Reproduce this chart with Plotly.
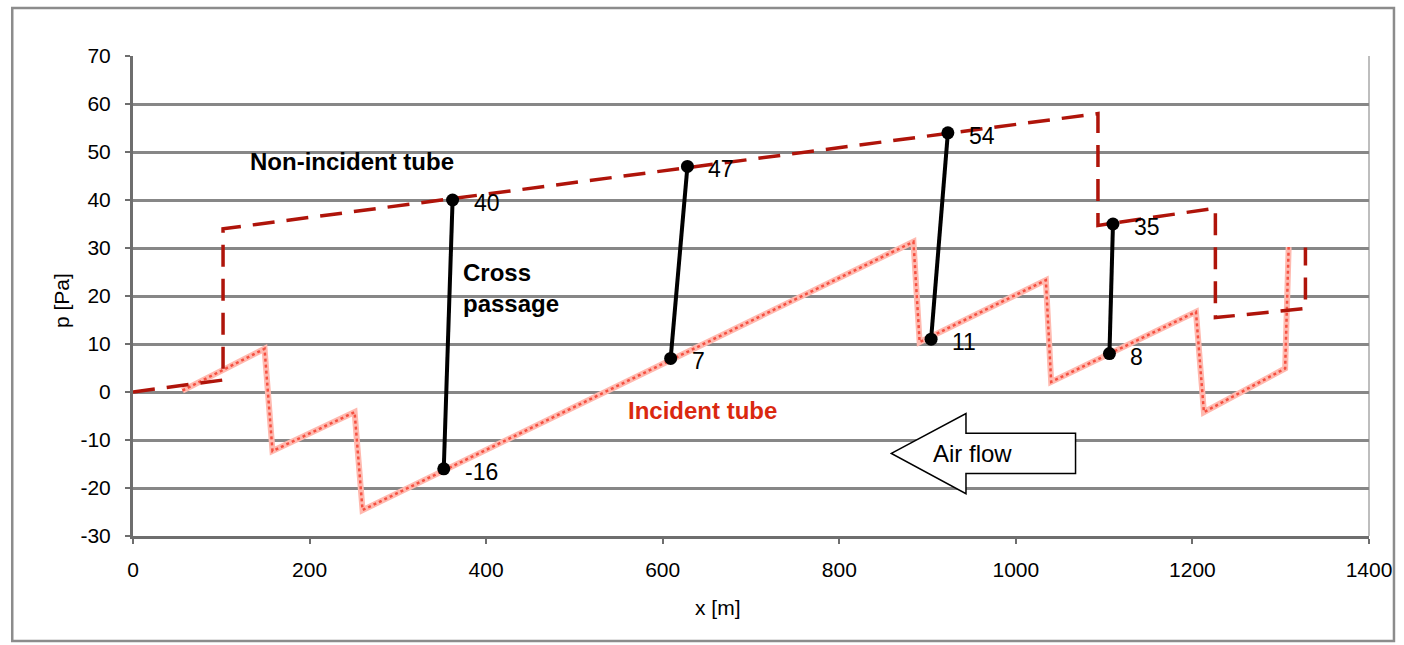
import plotly.graph_objects as go

# ---- data ----
noninc_x = [0, 102, 102, 1093, 1093, 1226, 1226, 1328, 1328]
noninc_y = [0, 2.5, 34, 58, 34.7, 38.3, 15.5, 17.4, 30.1]

inc_x = [56, 149, 158, 251, 260, 884, 891, 1034, 1040, 1204, 1213, 1305, 1309]
inc_y = [0.3, 9.0, -12.3, -4.2, -24.6, 31.3, 10.4, 23.3, 2.1, 16.7, -4.2, 4.9, 30.2]

cp_x_bottom = [352, 609, 904, 1106]
cp_y_bottom = [-16, 7, 11, 8]
cp_x_top = [362, 628, 923, 1110]
cp_y_top = [40, 47, 54, 35]

x_ticks = [0, 200, 400, 600, 800, 1000, 1200, 1400]
y_ticks = [-30, -20, -10, 0, 10, 20, 30, 40, 50, 60, 70]
y_tick_labels = [str(v) for v in y_ticks]

FONT = "Liberation Sans, Arial, sans-serif"

fig = go.Figure()

# Incident tube (textured light red)
fig.add_trace(go.Scatter(x=inc_x, y=inc_y, mode="lines",
                         line=dict(color="rgb(255,185,175)", width=6), hoverinfo="skip"))
fig.add_trace(go.Scatter(x=inc_x, y=inc_y, mode="lines",
                         line=dict(color="rgb(245,80,65)", width=2.5, dash="dot"), hoverinfo="skip"))

# Non-incident tube (dashed dark red)
fig.add_trace(go.Scatter(x=noninc_x, y=noninc_y, mode="lines",
                         line=dict(color="rgb(175,20,10)", width=3.5, dash="22px,12px")))

# Cross passages
for xb, yb, xt, yt in zip(cp_x_bottom, cp_y_bottom, cp_x_top, cp_y_top):
    fig.add_trace(go.Scatter(x=[xb, xt], y=[yb, yt], mode="lines+markers",
                             line=dict(color="black", width=4),
                             marker=dict(color="black", size=13)))

annotations = []
for xs, ys in ((cp_x_bottom, cp_y_bottom), (cp_x_top, cp_y_top)):
    for x, y in zip(xs, ys):
        annotations.append(dict(x=x, y=y, text=str(y), showarrow=False,
                                xanchor="left", yanchor="middle", xshift=19, yshift=-3,
                                font=dict(family=FONT, size=23, color="black")))

annotations += [
    dict(x=130, y=48.1, text="<b>Non-incident tube</b>", showarrow=False, xanchor="left",
         yanchor="middle", font=dict(family=FONT, size=24, color="black")),
    dict(x=371, y=21.7, text="<b>Cross<br>passage</b>", showarrow=False, xanchor="left",
         yanchor="middle", align="left", font=dict(family=FONT, size=24, color="black")),
    dict(x=558, y=-3.8, text="<b>Incident tube</b>", showarrow=False, xanchor="left",
         yanchor="middle", font=dict(family=FONT, size=24, color="rgb(218,40,15)")),
    dict(x=951, y=-12.8, text="Air flow", showarrow=False, xanchor="center",
         yanchor="middle", font=dict(family=FONT, size=24, color="black")),
    dict(x=-0.058, y=0.49, xref="paper", yref="paper", text="p [Pa]", textangle=-90,
         showarrow=False, xanchor="center", yanchor="middle",
         font=dict(family=FONT, size=21, color="black")),
    dict(x=0.473, y=-0.148, xref="paper", yref="paper", text="x [m]",
         showarrow=False, xanchor="center", yanchor="middle",
         font=dict(family=FONT, size=21, color="black")),
]

shapes = [
    # Air flow block arrow
    dict(type="path", xref="x", yref="y", layer="above",
         path="M 859,-12.8 L 943.5,-4.5 L 943.5,-8.6 L 1067.6,-8.6 L 1067.6,-17.0 "
              "L 943.5,-17.0 L 943.5,-21.2 Z",
         fillcolor="white", line=dict(color="black", width=1.5)),
    # right border of plot area
    dict(type="line", xref="paper", yref="paper", x0=1, x1=1, y0=0, y1=1,
         line=dict(color="rgb(190,190,190)", width=2), layer="below"),
    # outer frame
    dict(type="rect", xref="paper", yref="paper", x0=-0.0977, x1=1.0202, y0=-0.2187, y1=1.1,
         line=dict(color="rgb(140,140,140)", width=2.5), layer="below"),
]

fig.update_layout(
    width=1404, height=645,
    margin=dict(l=133, r=32, t=56, b=109),
    paper_bgcolor="white", plot_bgcolor="white",
    showlegend=False,
    annotations=annotations, shapes=shapes,
    font=dict(family=FONT, size=21, color="black"),
)
fig.update_xaxes(range=[0, 1400], tickvals=x_ticks, showgrid=False, zeroline=False,
                 showline=True, linecolor="rgb(110,110,110)", linewidth=3,
                 ticks="outside", ticklen=5, tickwidth=2, tickcolor="rgb(110,110,110)",
                 ticklabelstandoff=8,
                 tickfont=dict(family=FONT, size=21, color="black"))
fig.update_yaxes(range=[-30, 70], tickvals=y_ticks, ticktext=y_tick_labels, showgrid=True,
                 gridcolor="rgb(135,135,135)", gridwidth=3, zeroline=False,
                 showline=True, linecolor="rgb(110,110,110)", linewidth=3,
                 ticks="outside", ticklen=5, tickwidth=2, tickcolor="rgb(110,110,110)",
                 ticklabelstandoff=10,
                 tickfont=dict(family=FONT, size=21, color="black"))

fig.write_html("out.html", config={"displayModeBar": False},
               post_script="document.body.style.margin='0';document.body.style.overflow='hidden';")
